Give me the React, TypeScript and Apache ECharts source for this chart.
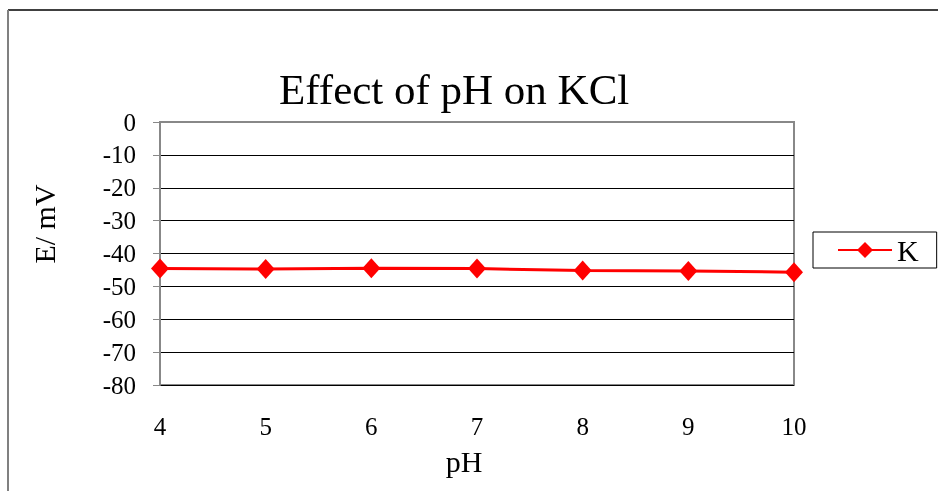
import React, { useEffect, useRef } from "react";
import * as echarts from "echarts";

const titleText = "Effect of pH on KCl";
const seriesName = "K";
const phValues = [4, 5, 6, 7, 8, 9, 10];
const potentialValues = [-44.6, -44.7, -44.5, -44.6, -45.2, -45.3, -45.7];
const yAxisName = "E/ mV";
const xAxisName = "pH";

export default function App() {
  const ref = useRef<HTMLDivElement>(null);
  useEffect(() => {
    if (!ref.current) return;
    const chart = echarts.init(ref.current, null, { renderer: "svg" });
    const font = "Liberation Serif";
    chart.setOption({
      animation: false,
      title: {
        text: titleText,
        left: 274,
        top: 63,
        textStyle: { fontFamily: font, fontSize: 43, fontWeight: "normal", color: "#000" },
      },
      graphic: [
        { type: "line", shape: { x1: 8, y1: 10, x2: 938, y2: 10 }, style: { stroke: "#404040", lineWidth: 2 } },
        { type: "line", shape: { x1: 8, y1: 10, x2: 8, y2: 491 }, style: { stroke: "#808080", lineWidth: 2 } },
        {
          type: "text",
          x: 44,
          y: 224,
          rotation: Math.PI / 2,
          style: { text: yAxisName, fontFamily: font, fontSize: 30, fill: "#000", align: "center", verticalAlign: "middle" },
        },
        {
          type: "text",
          x: 464,
          y: 461,
          style: { text: xAxisName, fontFamily: font, fontSize: 30, fill: "#000", align: "center", verticalAlign: "middle" },
        },
      ],
      legend: {
        left: 813,
        top: 232,
        orient: "vertical",
        padding: [3, 18, 3, 24],
        borderColor: "#000",
        borderWidth: 1,
        itemWidth: 54,
        itemHeight: 20,
        textStyle: { fontFamily: font, fontSize: 30, color: "#000" },
        data: [seriesName],
      },
      grid: { left: 160, right: 144, top: 122, bottom: 106, show: true, borderColor: "#888", borderWidth: 2 },
      xAxis: {
        type: "value",
        min: 4,
        max: 10,
        interval: 1,
        axisLine: { lineStyle: { color: "#888", width: 2 } },
        axisTick: { show: false },
        axisLabel: { fontSize: 25, color: "#000", fontFamily: font, margin: 29 },
        splitLine: { show: false },
      },
      yAxis: {
        type: "value",
        min: -80,
        max: 0,
        interval: 10,
        axisLine: { show: true, lineStyle: { color: "#888", width: 2 } },
        axisTick: { show: true, length: 7, lineStyle: { color: "#888", width: 1 } },
        axisLabel: { fontSize: 25, color: "#000", fontFamily: font, margin: 24 },
        splitLine: { show: true, lineStyle: { color: "#000", width: 1 } },
      },
      series: [
        {
          name: seriesName,
          type: "line",
          data: phValues.map((x, i) => [x, potentialValues[i]]),
          color: "#ff0000",
          lineStyle: { color: "#ff0000", width: 3 },
          symbol: "diamond",
          symbolSize: [18, 20],
          itemStyle: { color: "#ff0000" },
        },
      ],
    });
    return () => chart.dispose();
  }, []);
  return <div ref={ref} style={{ position: "fixed", left: 0, top: 0, width: 938, height: 491 }} />;
}
